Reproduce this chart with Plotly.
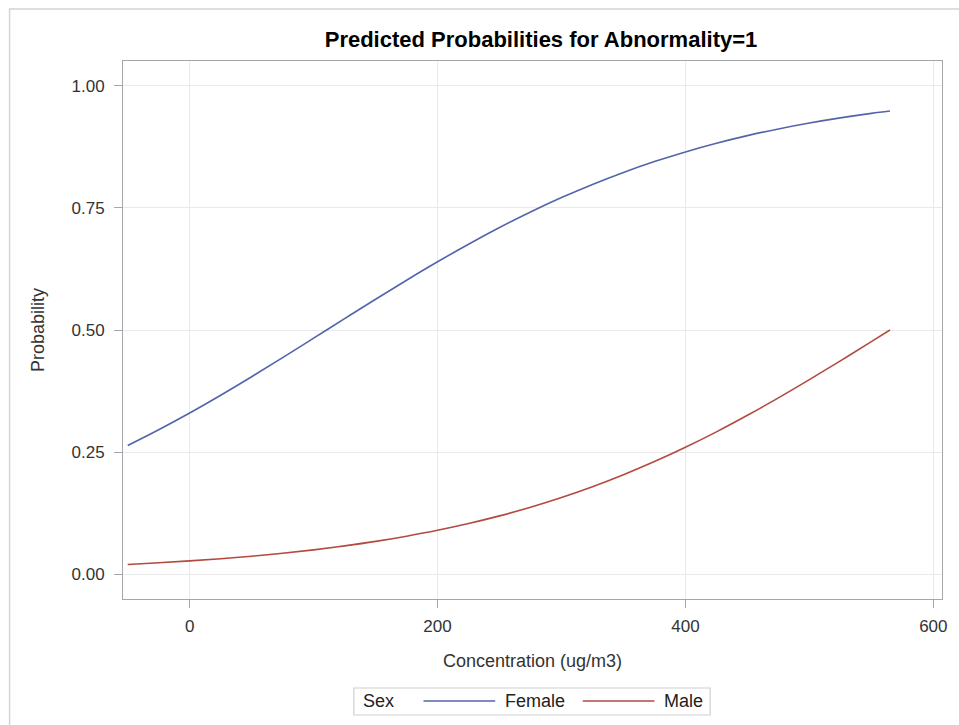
import plotly.graph_objects as go

# Predicted probability curves by sex
concentration = [-50, -25, 0, 25, 50, 75, 100, 125, 150, 175, 200, 225, 250, 275,
                 300, 325, 350, 375, 400, 425, 450, 475, 500, 525, 550, 565]
female_prob = [0.2634, 0.2957, 0.3300, 0.3664, 0.4043, 0.4434, 0.4833, 0.5233, 0.5630,
               0.6020, 0.6397, 0.6757, 0.7098, 0.7417, 0.7712, 0.7982, 0.8228, 0.8450,
               0.8648, 0.8825, 0.8981, 0.9119, 0.9240, 0.9345, 0.9437, 0.9485]
male_prob = [0.0198, 0.0231, 0.0270, 0.0315, 0.0367, 0.0427, 0.0497, 0.0578, 0.0670,
             0.0777, 0.0898, 0.1036, 0.1193, 0.1370, 0.1569, 0.1790, 0.2036, 0.2305,
             0.2598, 0.2914, 0.3253, 0.3610, 0.3983, 0.4369, 0.4762, 0.5000]
x_ticks = [0, 200, 400, 600]
y_ticks = [0.0, 0.25, 0.5, 0.75, 1.0]
series_names = ["Female", "Male"]
series_colors = ["#5464aa", "#b34a40"]

FONT = "Liberation Sans, Arial, sans-serif"
W, H = 959, 725
ML, MR, MT, MB = 123, 13, 61, 126
PW, PH = W - ML - MR, H - MT - MB


def px_x(px):
    """Pixel column -> paper x."""
    return (px - ML) / PW


def px_y(py):
    """Pixel row -> paper y."""
    return (H - MB - py) / PH


fig = go.Figure()
for name, ys, col in zip(series_names, [female_prob, male_prob], series_colors):
    fig.add_trace(go.Scatter(x=concentration, y=ys, mode="lines", name=name,
                             line=dict(color=col, width=1.6, shape="spline")))

axis_common = dict(showgrid=True, gridcolor="#e9e9e9", gridwidth=1,
                   showline=True, linecolor="#a3a7ab", linewidth=1, mirror=True,
                   ticks="outside", ticklen=8, tickcolor="#a3a7ab",
                   zeroline=False, tickfont=dict(family=FONT, size=17, color="#333333"),
                   title_font=dict(family=FONT, size=18, color="#333333"))

fig.update_layout(
    width=W, height=H,
    margin=dict(l=ML, r=MR, t=MT, b=MB),
    paper_bgcolor="white", plot_bgcolor="white",
    title=dict(text="<b>Predicted Probabilities for Abnormality=1</b>",
               x=541 / W, xanchor="center", y=1 - 39 / H, yanchor="middle",
               font=dict(family=FONT, size=22, color="#000000")),
    xaxis=dict(range=[-53.8, 607], tickvals=x_ticks, title_text="Concentration (ug/m3)",
               ticklabelstandoff=4, title_standoff=18, **axis_common),
    yaxis=dict(range=[-0.051, 1.051], tickvals=y_ticks, tickformat=".2f",
               title_text="Probability", ticklabelstandoff=6, title_standoff=22,
               **axis_common),
    showlegend=False,
)

# Light outer frame around the graph area
fig.add_shape(type="rect", xref="paper", yref="paper",
              x0=px_x(9), x1=px_x(1100), y0=px_y(900), y1=px_y(9),
              line=dict(color="#d4d4d4", width=1.5), layer="below")

# Legend box: "Sex" followed by a line sample and label for each series
leg_top, leg_bot, leg_mid = 688, 715, 701
fig.add_shape(type="rect", xref="paper", yref="paper",
              x0=px_x(355), x1=px_x(713), y0=px_y(leg_bot), y1=px_y(leg_top),
              line=dict(color="#cfcfcf", width=1.2), fillcolor="white")
fig.add_annotation(text="Sex", xref="paper", yref="paper", x=px_x(362), y=px_y(leg_mid),
                   xanchor="left", yanchor="middle", showarrow=False,
                   font=dict(family=FONT, size=18, color="#222222"))
sample_starts = [425, 585]
for name, col, x0 in zip(series_names, series_colors, sample_starts):
    fig.add_shape(type="line", xref="paper", yref="paper",
                  x0=px_x(x0), x1=px_x(x0 + 72), y0=px_y(leg_mid), y1=px_y(leg_mid),
                  line=dict(color=col, width=1.6))
    fig.add_annotation(text=name, xref="paper", yref="paper", x=px_x(x0 + 80),
                       y=px_y(leg_mid), xanchor="left", yanchor="middle", showarrow=False,
                       font=dict(family=FONT, size=18, color="#222222"))

fig.write_html("out.html")
